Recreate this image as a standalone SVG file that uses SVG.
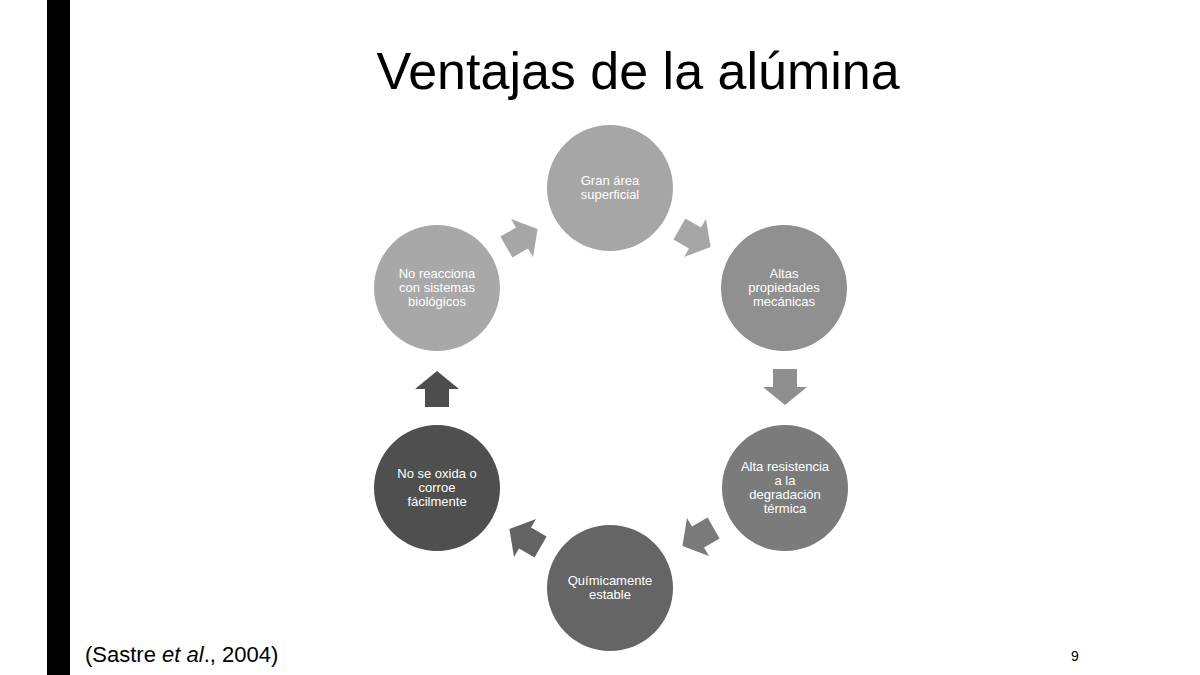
<svg xmlns="http://www.w3.org/2000/svg" width="1200" height="675" viewBox="0 0 1200 675">
<style>
.t{font-family:"Liberation Sans",Arial,sans-serif;font-size:13px;fill:#ffffff;text-anchor:middle}
.title{font-family:"Liberation Sans",Arial,sans-serif;font-size:52px;fill:#000;text-anchor:middle}
</style>
<defs>
<path id="arr" d="M-18,-12 L0,-12 L0,-22 L18,0 L0,22 L0,12 L-18,12 Z"/>
</defs>
<rect width="1200" height="675" fill="#ffffff"/>
<rect x="47" y="0" width="23" height="675" fill="#000000"/>
<text class="title" x="638" y="89">Ventajas de la alúmina</text>
<g id="connectors">
<use href="#arr" fill="#a6a6a6" transform="translate(695,238) rotate(30)"/>
<use href="#arr" fill="#8f8f8f" transform="translate(785,387) rotate(90)"/>
<use href="#arr" fill="#7a7a7a" transform="translate(698,537) rotate(150)"/>
<use href="#arr" fill="#636363" transform="translate(525,538) rotate(210)"/>
<use href="#arr" fill="#4d4d4d" transform="translate(437,389) rotate(270)"/>
<use href="#arr" fill="#a6a6a6" transform="translate(522,238) rotate(330)"/>
</g>
<g id="n1"><circle cx="610" cy="188" r="63" fill="#a6a6a6"/>
<text class="t" x="610" y="185">Gran área</text><text class="t" x="610" y="199">superficial</text></g>
<g id="n2"><circle cx="784" cy="288" r="63" fill="#909090"/>
<text class="t" x="784" y="278">Altas</text><text class="t" x="784" y="292">propiedades</text><text class="t" x="784" y="306">mecánicas</text></g>
<g id="n3"><circle cx="785" cy="488" r="63" fill="#7b7b7b"/>
<text class="t" x="785" y="471">Alta resistencia</text><text class="t" x="785" y="485">a la</text><text class="t" x="785" y="499">degradación</text><text class="t" x="785" y="513">térmica</text></g>
<g id="n4"><circle cx="610" cy="588" r="63" fill="#656565"/>
<text class="t" x="610" y="585">Químicamente</text><text class="t" x="610" y="599">estable</text></g>
<g id="n5"><circle cx="437" cy="488" r="63" fill="#4f4f4f"/>
<text class="t" x="437" y="478">No se oxida o</text><text class="t" x="437" y="492">corroe</text><text class="t" x="437" y="506">fácilmente</text></g>
<g id="n6"><circle cx="437" cy="288" r="63" fill="#a8a8a8"/>
<text class="t" x="437" y="278">No reacciona</text><text class="t" x="437" y="292">con sistemas</text><text class="t" x="437" y="306">biológicos</text></g>
<text x="85" y="662" font-family="Liberation Sans,Arial,sans-serif" font-size="22" fill="#000">(Sastre <tspan font-style="italic">et al</tspan>., 2004)</text>
<text x="1075" y="661" font-family="Liberation Sans,Arial,sans-serif" font-size="14" fill="#000" text-anchor="middle">9</text>
</svg>
